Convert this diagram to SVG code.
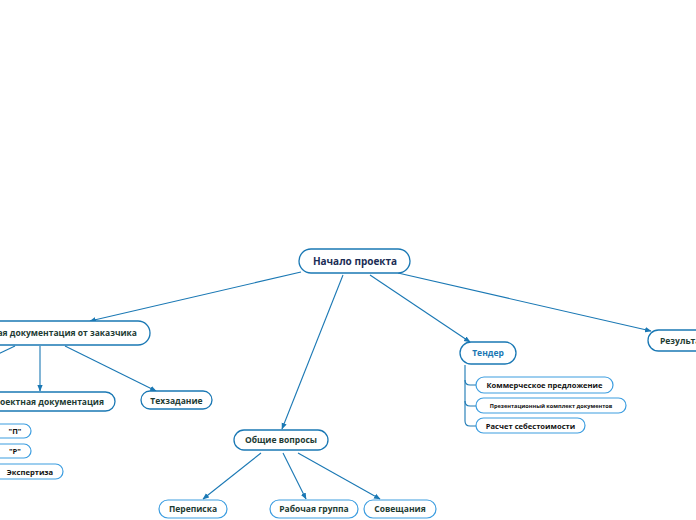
<svg xmlns="http://www.w3.org/2000/svg" width="696" height="520" viewBox="0 0 696 520">
<defs>
<marker id="ah" viewBox="0 0 10 10" refX="9" refY="5" markerWidth="6" markerHeight="6" orient="auto-start-reverse">
<path d="M0,1 L10,5 L0,9 z" fill="#1a78b4"/>
</marker>
<style>
.b{fill:#fff;stroke:#1a78b4;stroke-width:1.3}
.l{fill:#fff;stroke:#3c9de0;stroke-width:1.2}
.e{fill:none;stroke:#1a78b4;stroke-width:1.1}
.t{font-family:"Open Sans","DejaVu Sans",sans-serif;font-weight:700;font-size:8.5px;fill:#1d3b33;text-anchor:middle}
.s{font-family:"Open Sans","DejaVu Sans",sans-serif;font-weight:700;font-size:7.6px;fill:#111;text-anchor:middle}
</style>
</defs>
<rect width="696" height="520" fill="#fff"/>
<g id="connectors">
<path class="e" d="M301,272 L90,321" marker-end="url(#ah)"/>
<path class="e" d="M343,275 L282,429" marker-end="url(#ah)"/>
<path class="e" d="M370,275 L470,342" marker-end="url(#ah)"/>
<path class="e" d="M398,273 L651,331" marker-end="url(#ah)"/>
<path class="e" d="M15,346 L-2,354"/>
<path class="e" d="M40,346 L40,391" marker-end="url(#ah)"/>
<path class="e" d="M65,346 L156,391" marker-end="url(#ah)"/>
<path class="e" d="M261,453 L203,499" marker-end="url(#ah)"/>
<path class="e" d="M283,453 L306,499" marker-end="url(#ah)"/>
<path class="e" d="M298,453 L380,499" marker-end="url(#ah)"/>
<path class="e" d="M465,365 L465,380 Q465,385 470,385 L476,385"/>
<path class="e" d="M465,380 L465,401 Q465,406 470,406 L476,406"/>
<path class="e" d="M465,401 L465,421 Q465,426 470,426 L476,426"/>
</g>
<g id="root">
<rect class="b" x="299" y="249" width="111" height="24" rx="12"/>
<text class="t" x="355" y="265" style="font-size:10px;fill:#1b2d55">Начало проекта</text>
</g>
<g id="n-ishod">
<rect class="b" x="-40" y="321" width="190" height="24" rx="12"/>
<text class="t" x="137" y="336" style="text-anchor:end">Исходная  документация от заказчика</text>
</g>
<g id="n-proekt">
<rect class="b" x="-40" y="392" width="155" height="19" rx="9.5"/>
<text class="t" x="104" y="405" style="text-anchor:end">Проектная документация</text>
</g>
<g id="n-tz">
<rect class="b" x="141" y="391" width="71" height="18" rx="9"/>
<text class="t" x="176.5" y="403.5">Техзадание</text>
</g>
<g id="n-p">
<rect class="l" x="-20" y="424" width="51" height="14" rx="7"/>
<text class="s" x="15" y="434">"П"</text>
</g>
<g id="n-r">
<rect class="l" x="-20" y="444" width="51" height="14" rx="7"/>
<text class="s" x="15" y="454">"Р"</text>
</g>
<g id="n-exp">
<rect class="l" x="-20" y="464" width="83" height="15" rx="7.5"/>
<text class="s" x="30" y="474.5">Экспертиза</text>
</g>
<g id="n-obsh">
<rect class="b" x="234" y="430" width="94" height="20" rx="10"/>
<text class="t" x="281" y="443">Общие вопросы</text>
</g>
<g id="n-perep">
<rect class="l" x="159" y="500" width="68" height="18" rx="9"/>
<text class="t" x="193" y="512">Переписка</text>
</g>
<g id="n-rab">
<rect class="l" x="270" y="500" width="88" height="18" rx="9"/>
<text class="t" x="314" y="512">Рабочая группа</text>
</g>
<g id="n-sov">
<rect class="l" x="364" y="500" width="72" height="18" rx="9"/>
<text class="t" x="400" y="512">Совещания</text>
</g>
<g id="n-tender">
<rect class="b" x="460" y="342" width="56" height="22" rx="11"/>
<text class="t" x="488" y="356" style="fill:#1a78b4">Тендер</text>
</g>
<g id="n-komm">
<rect class="l" x="476" y="377" width="137" height="16" rx="8"/>
<text class="s" x="544.5" y="388">Коммерческое предложение</text>
</g>
<g id="n-prez">
<rect class="l" x="476" y="398" width="150" height="15" rx="7.5"/>
<text class="s" x="551" y="408" style="font-size:5.6px">Презентационный комплект документов</text>
</g>
<g id="n-rasch">
<rect class="l" x="476" y="418" width="109" height="15" rx="7.5"/>
<text class="s" x="530.5" y="428.5">Расчет себестоимости</text>
</g>
<g id="n-rez">
<rect class="b" x="648" y="330" width="80" height="21" rx="10.5"/>
<text class="t" x="660" y="343.5" style="text-anchor:start">Результат</text>
</g>
</svg>
